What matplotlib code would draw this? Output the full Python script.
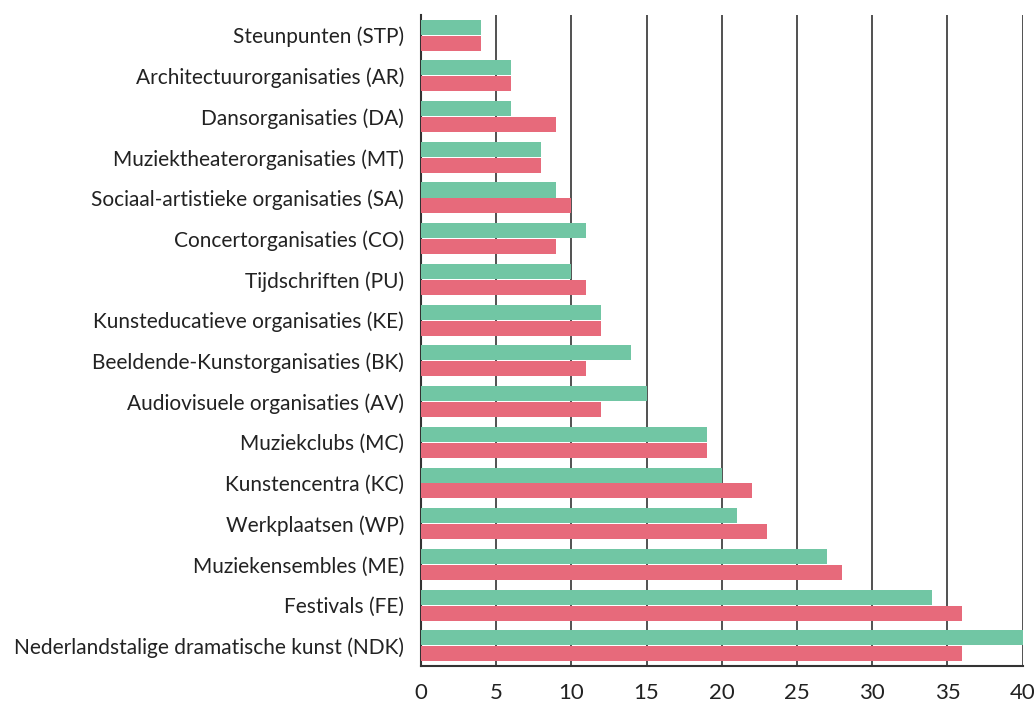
import numpy as np
import matplotlib.pyplot as plt

categories = [
    "Steunpunten (STP)",
    "Architectuurorganisaties (AR)",
    "Dansorganisaties (DA)",
    "Muziektheaterorganisaties (MT)",
    "Sociaal-artistieke organisaties (SA)",
    "Concertorganisaties (CO)",
    "Tijdschriften (PU)",
    "Kunsteducatieve organisaties (KE)",
    "Beeldende-Kunstorganisaties (BK)",
    "Audiovisuele organisaties (AV)",
    "Muziekclubs (MC)",
    "Kunstencentra (KC)",
    "Werkplaatsen (WP)",
    "Muziekensembles (ME)",
    "Festivals (FE)",
    "Nederlandstalige dramatische kunst (NDK)",
]
green_vals = [4, 6, 6, 8, 9, 11, 10, 12, 14, 15, 19, 20, 21, 27, 34, 40]
red_vals = [4, 6, 9, 8, 10, 9, 11, 12, 11, 12, 19, 22, 23, 28, 36, 36]
x_ticks = [0, 5, 10, 15, 20, 25, 30, 35, 40]

plt.rcParams['font.family'] = ['Lato', 'DejaVu Sans']

fig = plt.figure(figsize=(10.34, 7.02), dpi=100)
ax = fig.add_axes([0.407, 0.051, 0.582, 0.928])

y = np.arange(len(categories))
h = 0.37
ax.barh(y - h / 2 - 0.01, green_vals, height=h, color='#71c6a4', zorder=3)
ax.barh(y + h / 2 + 0.01, red_vals, height=h, color='#e76a7b', zorder=3)

ax.set_ylim(len(categories) - 0.5, -0.5)
ax.set_xlim(0, 40)
ax.set_yticks(y)
ax.set_yticklabels(categories, fontsize=15, color='#222222')
ax.set_xticks(x_ticks)
ax.set_xticklabels([str(t) for t in x_ticks], fontsize=16, color='#222222')
ax.tick_params(axis='y', length=0, pad=12)
ax.tick_params(axis='x', length=0, pad=12)

ax.grid(axis='x', color='#333333', linewidth=1.2, zorder=0)
for s in ['top', 'right']:
    ax.spines[s].set_visible(False)
ax.spines['left'].set_color('#333333')
ax.spines['bottom'].set_color('#333333')
ax.spines['left'].set_linewidth(1.5)
ax.spines['bottom'].set_linewidth(1.5)

fig.savefig('out.png', dpi=100)
